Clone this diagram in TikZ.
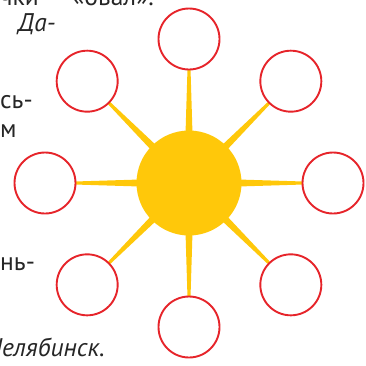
\documentclass[tikz,border=0pt]{standalone}
\usepackage{fontspec}
\setmainfont{PT Sans}
\usetikzlibrary{calc}
\definecolor{sunyellow}{RGB}{255,200,10}
\definecolor{ringred}{RGB}{230,36,42}

\begin{document}
\begin{tikzpicture}[x=1pt,y=-1pt,
    bubble/.style={circle, draw=ringred, line width=1.9pt, fill=white, minimum size=61pt, inner sep=0pt},
    txt/.style={inner sep=0pt, anchor=base west, font=\fontsize{25.5}{30}\selectfont, text=black!85}]
    \def\R{144}
    \clip (0,0) rectangle (366,365);
    \useasboundingbox (0,0) rectangle (366,365);
    \coordinate (sun) at (189,183);
    \foreach \i/\a in {1/90,2/45,3/0,4/-45,5/-90,6/-135,7/180,8/135}
      \coordinate (p\i) at ($(sun)+(\a:\R)$);
    \foreach \i in {1,...,8}
      \fill[sunyellow] ($(sun)!5pt!90:(p\i)$) -- ($(p\i)!0.6pt!-90:(sun)$)
        -- ($(p\i)!0.6pt!90:(sun)$) -- ($(sun)!5pt!-90:(p\i)$) -- cycle;
    \node[circle, fill=sunyellow, minimum size=105pt, inner sep=0pt] (core) at (sun) {};
    \foreach \i in {1,...,8}
      \node[bubble] (c\i) at (p\i) {};
    \node[txt] (t1) at (0,5) {чки};
    \node[txt] (t2) at (72,5) {«овал».};
    \node[txt, font=\fontsize{25.5}{30}\selectfont\itshape] (t3) at (18,31) {Да-};
    \node[txt] (t4) at (0,108) {сь-};
    \node[txt] (t5) at (0,137) {м};
    \node[txt] (t6) at (0,270) {нь-};
    \node[txt, anchor=base east, font=\fontsize{25.5}{30}\selectfont\itshape] (t7) at (105,356) {Челябинск.};
  \end{tikzpicture}
\end{document}
